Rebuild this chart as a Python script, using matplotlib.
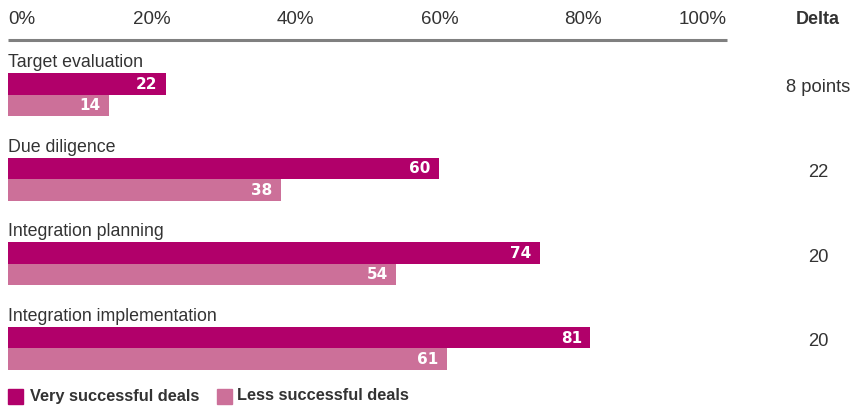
import matplotlib
matplotlib.use("Agg")
import matplotlib.pyplot as plt
from matplotlib.patches import Rectangle

# data
categories = ["Target evaluation", "Due diligence", "Integration planning", "Integration implementation"]
very_successful = [22, 60, 74, 81]
less_successful = [14, 38, 54, 61]
delta_labels = ["8 points", "22", "20", "20"]
tick_values = [0, 20, 40, 60, 80, 100]
legend_labels = ["Very successful deals", "Less successful deals"]

VERY_COLOR = "#B1006A"
LESS_COLOR = "#CC7099"
TEXT_COLOR = "#333333"

plt.rcParams['font.family'] = ['Liberation Sans', 'DejaVu Sans']

W, H = 853, 409
fig = plt.figure(figsize=(W / 100, H / 100), dpi=100)
fig.patch.set_facecolor("white")

# axes spans x pixels 8..727, full height; y in pixel units (top = 0)
x0, x1 = 8, 727
ax = fig.add_axes([x0 / W, 0, (x1 - x0) / W, 1])
ax.set_xlim(0, 100)
ax.set_ylim(H, 0)
ax.axis("off")

def px_to_x(px):
    return (px - x0) / (x1 - x0) * 100

# top axis line and tick labels
ax.plot([0, 100], [39.5, 39.5], color="#808080", lw=2.2, solid_capstyle="butt", clip_on=False)
for v in tick_values:
    ha = "center"
    if v == 0:
        ha = "left"
    elif v == 100:
        ha = "right"
    ax.text(v, 20, f"{v}%", ha=ha, va="center", fontsize=13.5, color=TEXT_COLOR)

ax.text(px_to_x(818), 20, "Delta", ha="center", va="center", fontsize=13,
        fontweight="bold", color=TEXT_COLOR, clip_on=False)

# bar groups
first_bar = 73
spacing = 84.6
bar_h = 21.5
for i, cat in enumerate(categories):
    top = first_bar + i * spacing
    ax.text(0, top - 6, cat, ha="left", va="baseline", fontsize=12.8, color=TEXT_COLOR)
    ax.barh(top + bar_h / 2, very_successful[i], height=bar_h, color=VERY_COLOR, left=0)
    ax.barh(top + bar_h * 1.5, less_successful[i], height=bar_h, color=LESS_COLOR, left=0)
    ax.text(very_successful[i] - 1.2, top + bar_h / 2 + 0.5, str(very_successful[i]),
            ha="right", va="center", fontsize=11, fontweight="bold", color="white",
            family="DejaVu Sans")
    ax.text(less_successful[i] - 1.2, top + bar_h * 1.5 + 0.5, str(less_successful[i]),
            ha="right", va="center", fontsize=11, fontweight="bold", color="white",
            family="DejaVu Sans")
    ax.text(px_to_x(818), top + 15, delta_labels[i], ha="center", va="center",
            fontsize=13.2, color=TEXT_COLOR, clip_on=False)

# legend
leg_y = 396
sq = 15
for label, color, sx, tx in zip(legend_labels, [VERY_COLOR, LESS_COLOR], [8, 217], [30, 237]):
    fig.patches.append(Rectangle((sx / W, 1 - (leg_y + sq / 2) / H), sq / W, sq / H,
                                 transform=fig.transFigure, color=color))
    fig.text(tx / W, 1 - leg_y / H, label, ha="left", va="center", fontsize=11.8,
             fontweight="bold", color=TEXT_COLOR)

fig.savefig("out.png", dpi=100)
